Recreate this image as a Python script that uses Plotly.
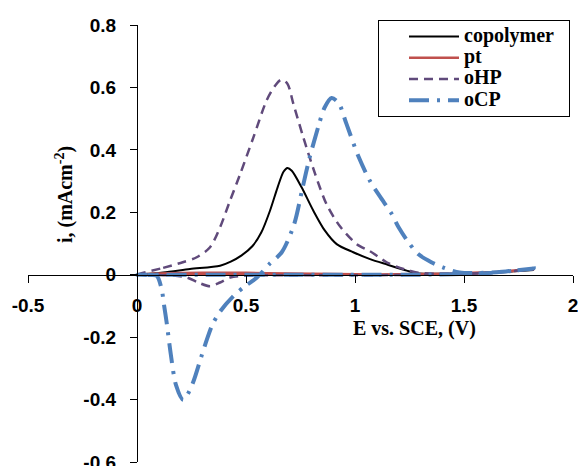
import plotly.graph_objects as go

# ---- data ----
copolymer_x = [0, 0.12, 0.243, 0.381, 0.43, 0.48, 0.53, 0.57, 0.61, 0.645, 0.672, 0.690, 0.71, 0.755, 0.809, 0.862,
               0.916, 0.992, 1.069, 1.15, 1.237, 1.28, 1.40, 1.60, 1.82]
copolymer_y = [0, 0.007, 0.018, 0.029, 0.042, 0.062, 0.092, 0.135, 0.205, 0.28, 0.33, 0.342, 0.333, 0.28, 0.205, 0.141,
               0.098, 0.072, 0.05, 0.032, 0.013, 0.005, 0.003, 0.006, 0.015]

pt_x = [0, 0.1, 0.3, 0.5, 0.7, 0.9, 1.1, 1.3, 1.5, 1.7, 1.82, 1.5, 1.0, 0.5, 0]
pt_y = [0, 0.004, 0.006, 0.006, 0.004, 0.002, 0.001, 0.002, 0.005, 0.01, 0.018, 0.002, 0.0, 0.0, 0]

ohp_x = [0, 0.12, 0.21, 0.274, 0.335, 0.381, 0.427, 0.472, 0.534, 0.595, 0.635, 0.662, 0.69, 0.717, 0.763,
         0.817, 0.87, 0.931, 1.008, 1.069, 1.145, 1.206, 1.25, 1.29, 1.40, 1.60, 1.82,
         1.60, 1.30, 1.00, 0.70, 0.50, 0.427, 0.381, 0.335, 0.281, 0.228, 0.15, 0.05, 0]
ohp_y = [0, 0.022, 0.04, 0.056, 0.088, 0.152, 0.238, 0.32, 0.44, 0.559, 0.607, 0.625, 0.612, 0.548, 0.44,
         0.323, 0.225, 0.155, 0.098, 0.075, 0.04, 0.022, 0.013, 0.006, 0.003, 0.006, 0.018,
         0.004, 0.0, -0.002, -0.002, -0.003, -0.009, -0.025, -0.037, -0.025, -0.009, -0.002, 0, 0]

ocp_x = [0, 0.05, 0.09, 0.113, 0.124, 0.136, 0.155, 0.179, 0.212, 0.251, 0.297, 0.32, 0.347, 0.381, 0.44,
         0.495, 0.549, 0.607, 0.664, 0.72, 0.76, 0.79, 0.832, 0.86, 0.893, 0.925, 0.96, 1.015, 1.069, 1.115,
         1.168, 1.20, 1.245, 1.29, 1.35, 1.405, 1.48, 1.65, 1.82,
         1.60, 1.30, 1.00, 0.70, 0.40, 0.10, 0]
ocp_y = [0, -0.001, -0.003, -0.046, -0.097, -0.153, -0.255, -0.354, -0.401, -0.356, -0.258, -0.209, -0.158, -0.118, -0.07,
         -0.037, -0.01, 0.034, 0.072, 0.16, 0.28, 0.37, 0.475, 0.535, 0.566, 0.55, 0.485, 0.38, 0.30, 0.25,
         0.195, 0.152, 0.104, 0.066, 0.04, 0.023, 0.007, 0.008, 0.02,
         0.005, 0, 0, 0, 0, 0, 0]

series_names = ["copolymer", "pt", "oHP", "oCP"]
x_ticks = [-0.5, 0, 0.5, 1, 1.5, 2]
x_tick_labels = ["-0.5", "0", "0.5", "1", "1.5", "2"]
y_ticks = [-0.6, -0.4, -0.2, 0, 0.2, 0.4, 0.6, 0.8]
y_tick_labels = ["-0.6", "-0.4", "-0.2", "0", "0.2", "0.4", "0.6", "0.8"]

SERIF = "Liberation Serif"
SANS = "Liberation Sans"


def legend_label(name, pad=0):
    return '<span style="font-size:20px">' + name + "\u00a0" * pad + '</span>'


fig = go.Figure()
fig.add_trace(go.Scatter(x=copolymer_x, y=copolymer_y, name=legend_label(series_names[0], 2), mode="lines",
                         line=dict(color="#000000", width=2, shape="spline", smoothing=0.8)))
fig.add_trace(go.Scatter(x=pt_x, y=pt_y, name=legend_label(series_names[1]), mode="lines",
                         line=dict(color="#C0504D", width=2.5, shape="spline", smoothing=0.5)))
fig.add_trace(go.Scatter(x=ohp_x, y=ohp_y, name=legend_label(series_names[2]), mode="lines",
                         line=dict(color="#604A7B", width=2.5, dash="9px,6px", shape="spline", smoothing=0.8)))
fig.add_trace(go.Scatter(x=ocp_x, y=ocp_y, name=legend_label(series_names[3]), mode="lines",
                         line=dict(color="#4F81BD", width=4, dash="20px,8px,3px,8px", shape="spline", smoothing=0.8)))

tickfont = dict(family=SANS, size=19, color="#000000", weight="bold")

fig.update_layout(
    width=578, height=466,
    margin=dict(l=28, r=5, t=25, b=4, autoexpand=False),
    paper_bgcolor="white", plot_bgcolor="white",
    showlegend=True,
    legend=dict(
        x=(378 - 28) / 545, xanchor="left", y=(462 - 20) / 437, yanchor="top",
        bgcolor="white", bordercolor="#000000", borderwidth=1,
        font=dict(family=SERIF, size=14, color="#000000", weight="bold"),
        itemwidth=50, tracegroupgap=0, indentation=25,
    ),
    xaxis=dict(
        range=[-0.5, 2], anchor="free", position=0.6 / 1.4, automargin=False,
        tickmode="array", tickvals=x_ticks, ticktext=x_tick_labels,
        showline=True, linecolor="#000000", linewidth=1.2,
        ticks="outside", ticklen=7, tickwidth=1.2, tickcolor="#000000",
        showgrid=False, zeroline=False, tickfont=tickfont, ticklabelstandoff=6,
        ticklabeloverflow="allow",
    ),
    yaxis=dict(
        range=[-0.6, 0.8], anchor="free", position=0.5 / 2.5, automargin=False,
        tickmode="array", tickvals=y_ticks, ticktext=y_tick_labels,
        showline=True, linecolor="#000000", linewidth=1.2,
        ticks="outside", ticklen=7, tickwidth=1.2, tickcolor="#000000",
        showgrid=False, zeroline=False, tickfont=tickfont, ticklabelstandoff=10,
        ticklabeloverflow="allow",
    ),
    annotations=[
        dict(text="E vs. SCE, (V)", xref="paper", yref="paper", x=0.71, y=0.3066,
             xanchor="center", yanchor="middle", showarrow=False,
             font=dict(family=SERIF, size=20, color="#000000", weight="bold")),
        dict(text="i, (mAcm<sup>-2</sup>)", xref="paper", yref="paper", x=0.066, y=0.613,
             xanchor="center", yanchor="middle", showarrow=False, textangle=-90,
             font=dict(family=SERIF, size=20, color="#000000", weight="bold")),
    ],
)

fig.write_html("out.html")
